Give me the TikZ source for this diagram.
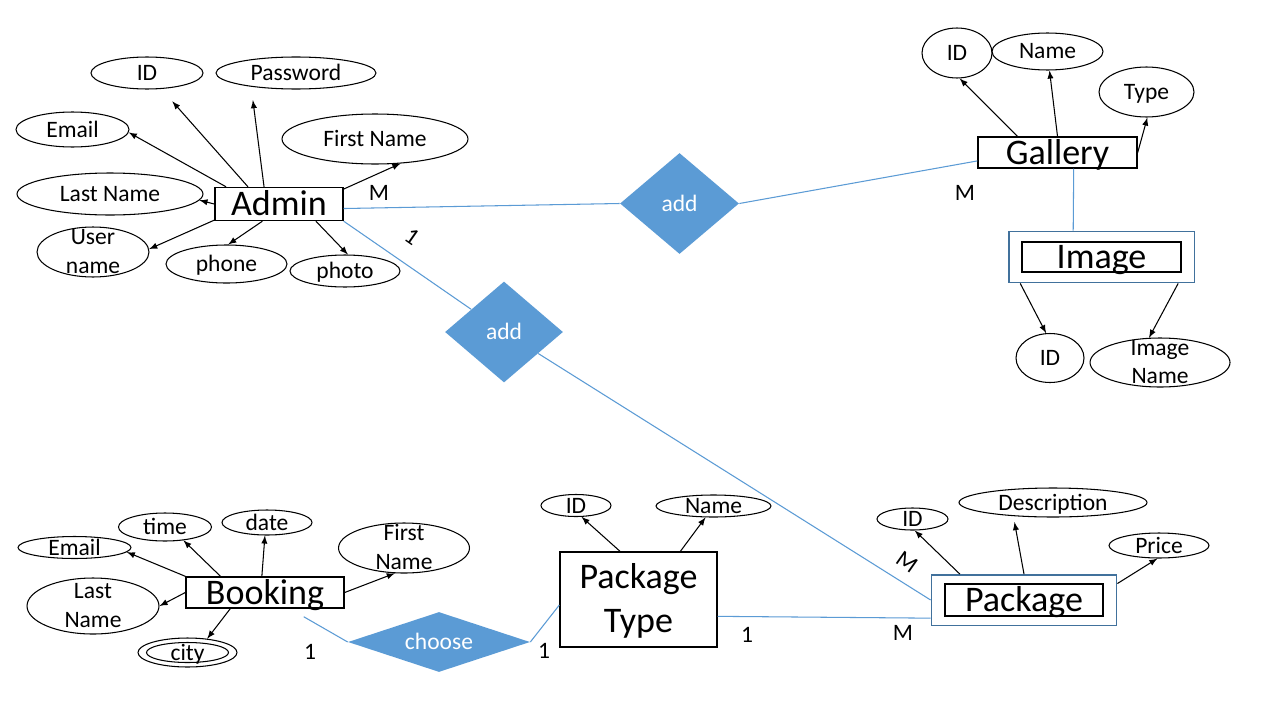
\documentclass[tikz,border=0pt]{standalone}
\usepackage{fontspec}
\setmainfont{Carlito}
\usetikzlibrary{arrows,shapes,fit}

\definecolor{relblue}{HTML}{5B9BD5}
\definecolor{weakblue}{HTML}{41719C}

\tikzset{
  attr/.style={ellipse, draw, line width=0.6pt, inner sep=0pt, text height=0.3cm, text depth=0pt,
    font=\fontsize{13.4}{16.4}\selectfont},
  entity/.style={rectangle, draw, line width=0.8pt, inner sep=0pt, text height=0.46cm, text depth=0pt,
    font=\fontsize{20.5}{24.6}\selectfont},
  weak/.style={rectangle, draw=weakblue, line width=0.8pt},
  relation/.style={diamond, fill=relblue, text=white, inner sep=0pt, text height=0.3cm, text depth=0pt,
    font=\fontsize{13.4}{16.4}\selectfont},
  card/.style={inner sep=0pt, text height=0.3cm, text depth=0pt, font=\fontsize{13.4}{16.4}\selectfont},
  attrline/.style={->, >=latex, line width=0.6pt},
  relline/.style={draw=relblue, line width=0.6pt}
}

\begin{document}
\begin{tikzpicture}[x=0.02cm,y=-0.02cm]
  \fill[white] (0,0) rectangle (1280,720);
  \useasboundingbox (0,0) rectangle (1280,720);
  %Entities
  \node[entity, minimum width=2.56cm, minimum height=0.66cm] (admin) at (279,204) {Admin};
  \node[entity, minimum width=3.18cm, minimum height=0.62cm] (gallery) at (1057.5,152.5) {Gallery};
  \node[entity, minimum width=3.18cm, minimum height=0.60cm] (image) at (1101.5,257) {Image};
  \node[weak, fit=(image), inner xsep=0.25cm, inner ysep=0.2cm] (imgw) {};
  \node[entity, minimum width=3.16cm, minimum height=0.62cm] (booking) at (265,592.5) {Booking};
  \node[entity, minimum width=3.14cm, minimum height=1.9cm] (ptype) at (638.5,599.5) {\begin{tabular}{@{}c@{}}Package\\Type\end{tabular}};
  \node[entity, minimum width=3.16cm, minimum height=0.64cm] (package) at (1024,600) {Package};
  \node[weak, fit=(package), inner xsep=0.26cm, inner ysep=0.17cm] (pkgw) {};
  %Relationships
  \node[relation, minimum width=2.38cm, minimum height=2.02cm] (add1) at (679.5,203.5) {add};
  \node[relation, minimum width=2.36cm, minimum height=2.02cm] (add2) at (504,332) {add};
  \node[relation, aspect=3, minimum width=3.64cm, minimum height=1.2cm] (choose) at (439,642) {choose};
  %Admin attributes
  \node[attr, minimum width=2.24cm, minimum height=0.64cm] (aid) at (147,73) {ID};
  \node[attr, minimum width=3.2cm, minimum height=0.64cm] (apass) at (296,73) {Password};
  \node[attr, minimum width=2.26cm, minimum height=0.70cm] (aemail) at (72.5,129.5) {Email};
  \node[attr, minimum width=3.72cm, minimum height=1.0cm] (afirst) at (375,139) {First Name};
  \node[attr, minimum width=3.72cm, minimum height=0.84cm] (alast) at (110,194) {Last Name};
  \node[attr, minimum width=2.24cm, minimum height=1.0cm] (auser) at (93,252) {\begin{tabular}{@{}c@{}}User\\name\end{tabular}};
  \node[attr, minimum width=2.42cm, minimum height=0.76cm] (aphone) at (226.5,264) {phone};
  \node[attr, minimum width=2.2cm, minimum height=0.64cm] (aphoto) at (345,271) {photo};
  %Gallery and Image attributes
  \node[attr, minimum width=1.4cm, minimum height=1.0cm] (gid) at (957,53) {ID};
  \node[attr, minimum width=2.22cm, minimum height=0.74cm] (gname) at (1047.5,51.5) {Name};
  \node[attr, minimum width=1.9cm, minimum height=1.0cm] (gtype) at (1146.5,92) {Type};
  \node[attr, minimum width=1.36cm, minimum height=0.98cm] (iid) at (1050,358) {ID};
  \node[attr, minimum width=2.8cm, minimum height=0.98cm] (iname) at (1160,362.5) {\begin{tabular}{@{}c@{}}Image\\Name\end{tabular}};
  %Booking attributes
  \node[attr, minimum width=2.26cm, minimum height=0.44cm] (bemail) at (74.5,547.5) {Email};
  \node[attr, minimum width=1.86cm, minimum height=0.56cm] (btime) at (165,527) {time};
  \node[attr, minimum width=1.8cm, minimum height=0.5cm] (bdate) at (267,522.5) {date};
  \node[attr, minimum width=2.62cm, minimum height=1.0cm] (bfirst) at (404,548) {\begin{tabular}{@{}c@{}}First\\Name\end{tabular}};
  \node[attr, minimum width=2.64cm, minimum height=1.12cm] (blast) at (93,606) {\begin{tabular}{@{}c@{}}Last\\Name\end{tabular}};
  \node[attr, minimum width=1.98cm, minimum height=0.58cm] (bcity) at (187.5,652.5) {city};
  \draw[line width=0.6pt] (bcity.center) ellipse [x radius=0.82cm, y radius=0.2cm]; %Draw multivalued ring
  %Package Type and Package attributes
  \node[attr, minimum width=1.4cm, minimum height=0.44cm] (tid) at (576,505.5) {ID};
  \node[attr, minimum width=2.3cm, minimum height=0.44cm] (tname) at (713.5,506) {Name};
  \node[attr, minimum width=1.42cm, minimum height=0.44cm] (pid) at (912.5,519) {ID};
  \node[attr, minimum width=3.76cm, minimum height=0.58cm] (pdesc) at (1053,502.5) {Description};
  \node[attr, minimum width=2.0cm, minimum height=0.5cm] (pprice) at (1159,545.5) {Price};
  %Attribute arrows
  \draw[attrline] (admin.162) -- (aemail.357);
  \draw[attrline, shorten >=0.33cm] (admin.151) -- (aid.312);
  \draw[attrline, shorten >=0.27cm] (admin.131) -- (apass.197);
  \draw[attrline] (admin.13) -- (afirst.316);
  \draw[attrline] (admin.west) -- (alast.356);
  \draw[attrline] (admin.194) -- (auser.3);
  \draw[attrline] (admin.226) -- (aphone.85);
  \draw[attrline] (admin.335) -- (aphoto.80);
  \draw[attrline] (gallery.158) -- (gid.276);
  \draw[attrline] (gallery.north) -- (gname.276);
  \draw[attrline] (gallery.east) -- (gtype.272);
  \draw[attrline] (imgw.198) -- (iid.99);
  \draw[attrline] (imgw.341) -- (iname.114);
  \draw[attrline] (booking.north west) -- (bemail.355);
  \draw[attrline] (booking.160) -- (btime.324);
  \draw[attrline] (booking.101) -- (bdate.261);
  \draw[attrline] (booking.east) -- (bfirst.250);
  \draw[attrline] (booking.west) -- (blast.east);
  \draw[attrline] (booking.205) -- (bcity.35);
  \draw[attrline] (ptype.111) -- (tid.296);
  \draw[attrline] (ptype.49) -- (tname.235);
  \draw[attrline] (pkgw.158) -- (pid.281);
  \draw[attrline, shorten >=0.12cm] (pkgw.north) -- (pdesc.199);
  \draw[attrline] (pkgw.10) -- (pprice.263);
  %Relationship lines
  \draw[relline] (admin.356) -- (add1.west);
  \draw[relline] (add1.east) -- (gallery.186);
  \draw[relline] (gallery.315) -- (imgw.137);
  \draw[relline] (admin.south east) -- (add2);
  \draw[relline] (add2) -- (pkgw.west);
  \draw[relline] (booking.south east) ++(-41,8) -- (choose.west);
  \draw[relline] (choose.east) -- (ptype.184);
  \draw[relline] (ptype.348) -- (pkgw.191);
  %Cardinalities
  \node[card] (cadmin) at (379,193) {M};
  \node[card, rotate=-35] (cadmin2) at (412,237) {1};
  \node[card] (cgal) at (965,193) {M};
  \node[card] (cbook) at (310,652) {1};
  \node[card] (cchoose) at (544,651) {1};
  \node[card] (cptype) at (747,635) {1};
  \node[card] (cpkg) at (903,633) {M};
  \node[card, rotate=-35] (cpkg2) at (907,562) {M};
\end{tikzpicture}
\end{document}
